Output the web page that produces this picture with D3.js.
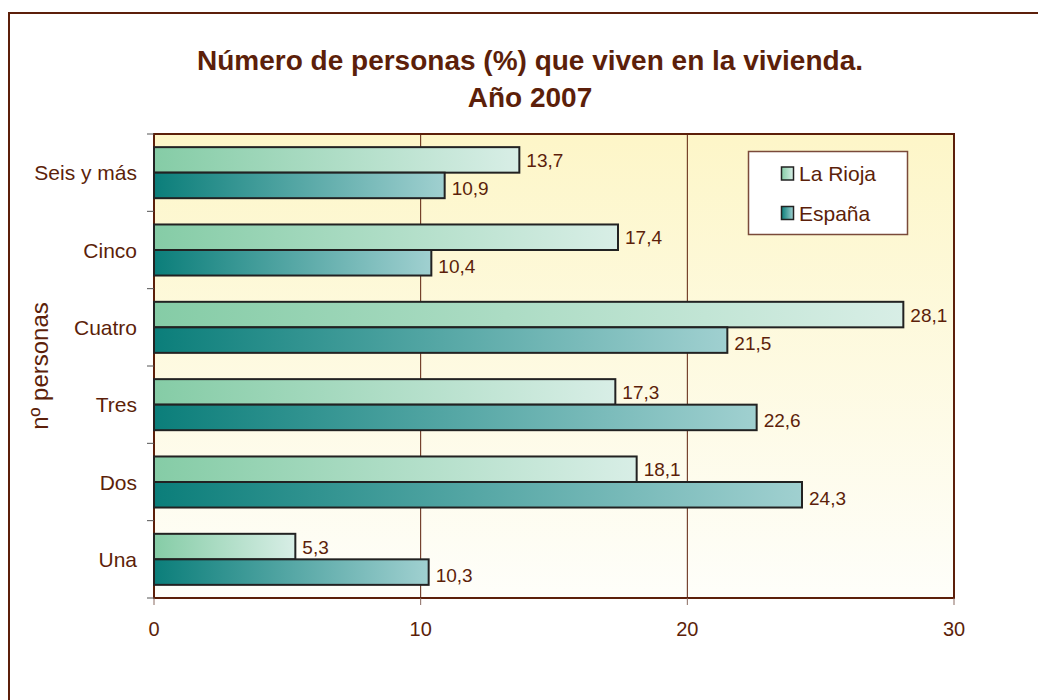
<!DOCTYPE html>
<html>
<head>
<meta charset="utf-8">
<script src="https://cdn.jsdelivr.net/npm/d3@7"></script>
<style>
  html, body { margin: 0; padding: 0; background: #ffffff; }
  svg { display: block; font-family: "Liberation Sans", Arial, sans-serif; }
</style>
</head>
<body>
<svg id="chart" width="1038" height="700"></svg>
<script>
const categories = ["Seis y más", "Cinco", "Cuatro", "Tres", "Dos", "Una"];
const seriesNames = ["La Rioja", "España"];
const laRioja = [13.7, 17.4, 28.1, 17.3, 18.1, 5.3];
const espana = [10.9, 10.4, 21.5, 22.6, 24.3, 10.3];
const xTicks = [0, 10, 20, 30];
const titleLines = ["Número de personas (%) que viven en la vivienda.", "Año 2007"];
const yAxisTitle = "nº personas";

(function () {
const brown = "#5c1f0a";
const svg = d3.select("#chart");

// gradients
const defs = svg.append("defs");
function grad(id, c1, c2, vertical) {
  const g = defs.append("linearGradient").attr("id", id)
    .attr("x1", "0").attr("y1", "0")
    .attr("x2", vertical ? "0" : "1").attr("y2", vertical ? "1" : "0");
  g.append("stop").attr("offset", "0%").attr("stop-color", c1);
  g.append("stop").attr("offset", "100%").attr("stop-color", c2);
}
grad("gRioja", "#85cca6", "#d8eee6", false);
grad("gEsp", "#0b7e7a", "#a0d0d0", false);
grad("gBg", "#fdf6c8", "#fefefa", true);

// outer frame
svg.append("rect").attr("x", 9).attr("y", 13).attr("width", 1040).attr("height", 700)
  .attr("fill", "#ffffff").attr("stroke", brown).attr("stroke-width", 2);

const pLeft = 154, pRight = 954, pTop = 134, pBottom = 598;

const x = d3.scaleLinear().domain([0, 30]).range([pLeft, pRight]);
const y = d3.scaleBand().domain(categories).range([pTop, pBottom]).paddingInner(0.34).paddingOuter(0.17);
const ySub = d3.scaleBand().domain(seriesNames).range([0, y.bandwidth()]);

// plot background
svg.append("rect").attr("x", pLeft).attr("y", pTop).attr("width", pRight - pLeft).attr("height", pBottom - pTop)
  .attr("fill", "url(#gBg)");

// gridlines
svg.append("g").selectAll("line").data(xTicks.filter(d => d > 0 && d < 30)).join("line")
  .attr("x1", d => x(d)).attr("x2", d => x(d)).attr("y1", pTop).attr("y2", pBottom)
  .attr("stroke", brown).attr("stroke-width", 1);

// plot border
svg.append("rect").attr("x", pLeft).attr("y", pTop).attr("width", pRight - pLeft).attr("height", pBottom - pTop)
  .attr("fill", "none").attr("stroke", brown).attr("stroke-width", 2);

// category ticks on left
const bandEdges = d3.range(categories.length + 1).map(i => pTop + i * (pBottom - pTop) / categories.length);
svg.append("g").selectAll("line").data(bandEdges).join("line")
  .attr("x1", pLeft - 7).attr("x2", pLeft).attr("y1", d => d).attr("y2", d => d)
  .attr("stroke", "#555").attr("stroke-width", 1);

// x ticks
svg.append("g").selectAll("line").data(xTicks).join("line")
  .attr("x1", d => x(d)).attr("x2", d => x(d)).attr("y1", pBottom).attr("y2", pBottom + 7)
  .attr("stroke", "#8a6a60").attr("stroke-width", 1);
svg.append("g").selectAll("text").data(xTicks).join("text")
  .attr("x", d => x(d)).attr("y", 636)
  .attr("text-anchor", "middle").attr("font-size", 20).attr("fill", brown)
  .text(d => d);

// category labels
svg.append("g").selectAll("text").data(categories).join("text")
  .attr("x", 137).attr("y", (d, i) => (bandEdges[i] + bandEdges[i + 1]) / 2 + 7.5)
  .attr("text-anchor", "end").attr("font-size", 21).attr("fill", brown)
  .text(d => d);

// bars
const series = [
  { name: seriesNames[0], values: laRioja, fill: "url(#gRioja)", dy: 7 },
  { name: seriesNames[1], values: espana, fill: "url(#gEsp)", dy: 10 }
];
const fmt = v => d3.format(".1f")(v).replace(".", ",");
series.forEach(s => {
  const g = svg.append("g");
  g.selectAll("rect").data(s.values).join("rect")
    .attr("x", x(0))
    .attr("y", (d, i) => y(categories[i]) + ySub(s.name))
    .attr("width", d => x(d) - x(0))
    .attr("height", ySub.bandwidth())
    .attr("fill", s.fill)
    .attr("stroke", "#222").attr("stroke-width", 2);
  g.selectAll("text").data(s.values).join("text")
    .attr("x", d => x(d) + 7)
    .attr("y", (d, i) => y(categories[i]) + ySub(s.name) + ySub.bandwidth() / 2 + s.dy)
    .attr("font-size", 19).attr("fill", brown)
    .text(d => fmt(d));
});

// title
svg.append("g").selectAll("text").data(titleLines).join("text")
  .attr("x", 530).attr("y", (d, i) => 70 + i * 37)
  .attr("text-anchor", "middle").attr("font-size", 28).attr("font-weight", "bold")
  .attr("fill", brown).text(d => d);

// y axis title
svg.append("text")
  .attr("transform", "translate(48,366) rotate(-90)")
  .attr("text-anchor", "middle").attr("font-size", 24).attr("fill", brown)
  .text(yAxisTitle);

// legend
const lg = svg.append("g");
lg.append("rect").attr("x", 748.5).attr("y", 151.5).attr("width", 159).attr("height", 83)
  .attr("fill", "#ffffff").attr("stroke", "#7a4a3a").attr("stroke-width", 1.5);
series.forEach((s, i) => {
  const top0 = 167 + i * 39.5;
  lg.append("rect").attr("x", 781.5).attr("y", top0).attr("width", 12).attr("height", 13)
    .attr("fill", s.fill).attr("stroke", "#222").attr("stroke-width", 1.5);
  lg.append("text").attr("x", 799).attr("y", top0 + 14).attr("font-size", 21).attr("fill", brown).text(s.name);
});
})();
</script>
</body>
</html>
